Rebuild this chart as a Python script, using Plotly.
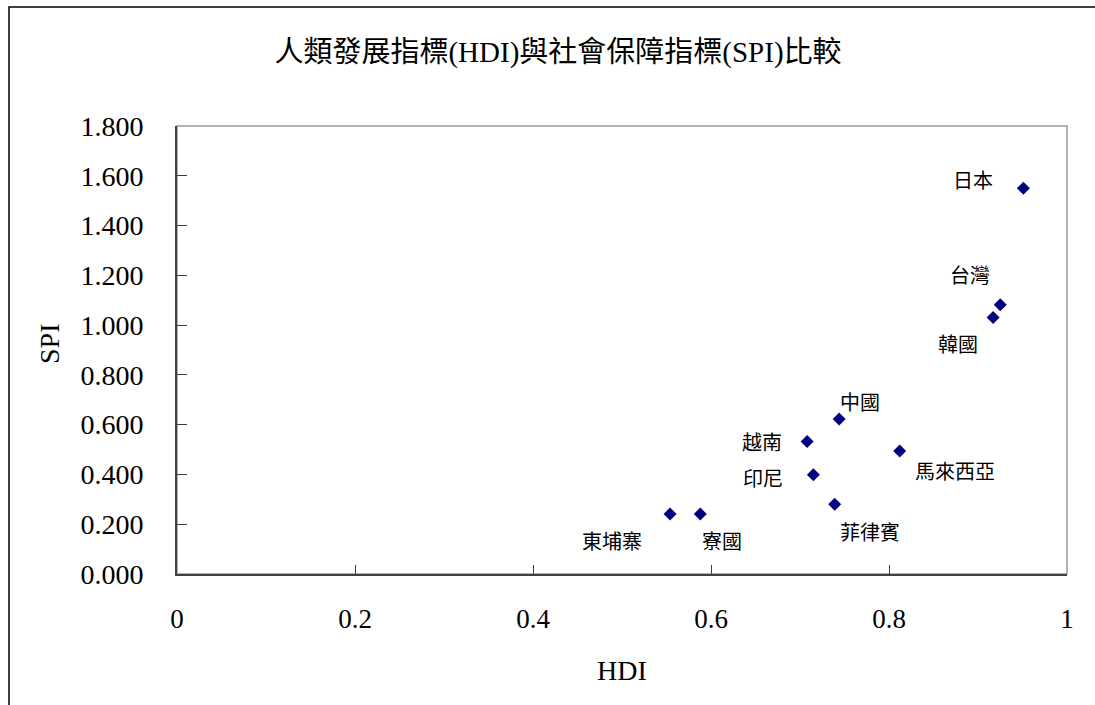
import plotly.graph_objects as go

# HDI vs SPI by country
countries = ["日本", "台灣", "韓國", "中國", "越南", "馬來西亞", "印尼", "菲律賓", "東埔寨", "寮國"]
hdi = [0.951, 0.925, 0.917, 0.744, 0.708, 0.812, 0.715, 0.739, 0.554, 0.588]
spi = [1.550, 1.082, 1.031, 0.623, 0.532, 0.494, 0.399, 0.280, 0.241, 0.241]

# label offsets in pixels (x right, y up) relative to each marker
label_dx = [-50, -30, -35, 21, -45, 55, -50, 35, -58, 22]
label_dy = [9, 30, -26, 17, 0, -19, -3, -27, -26, -26]

x_ticks = [0, 0.2, 0.4, 0.6, 0.8, 1]
y_ticks = [0, 0.2, 0.4, 0.6, 0.8, 1.0, 1.2, 1.4, 1.6, 1.8]

W, H = 1095, 705
L, R, T, B = 177, 28, 126, 131
pw, ph = W - L - R, H - T - B

serif = "Liberation Serif, Times New Roman, serif"
cjk = "Liberation Serif, Noto Sans CJK TC, serif"

fig = go.Figure()
fig.add_trace(go.Scatter(
    x=hdi, y=spi, mode="markers",
    marker=dict(symbol="diamond", size=10, color="#000080", line=dict(width=0)),
    showlegend=False, hoverinfo="text", text=countries,
))

for name, x, y, dx, dy in zip(countries, hdi, spi, label_dx, label_dy):
    fig.add_annotation(x=x, y=y, xref="x", yref="y", text=name, showarrow=False,
                       xshift=dx, yshift=dy, xanchor="center", yanchor="middle",
                       font=dict(family="Noto Sans CJK TC", size=20, color="#000000"))

# axis titles
fig.add_annotation(text="SPI", xref="paper", yref="paper",
                   x=(49 - L) / pw, y=(H - B - 344) / ph, textangle=-90,
                   showarrow=False, xanchor="center", yanchor="middle",
                   font=dict(family=serif, size=28, color="#000000"))
fig.add_annotation(text="HDI", xref="paper", yref="paper",
                   x=(622 - L) / pw, y=(H - B - 670) / ph,
                   showarrow=False, xanchor="center", yanchor="middle",
                   font=dict(family=serif, size=28, color="#000000"))

# outer chart frame (right and bottom edges run past the page)
fig.add_shape(type="rect", xref="paper", yref="paper", layer="below",
              x0=(9 - L) / pw, x1=(1110 - L) / pw,
              y0=(H - B - 730) / ph, y1=(H - B - 7) / ph,
              line=dict(color="#000000", width=1.5), fillcolor="rgba(0,0,0,0)")
# plot area border
fig.add_shape(type="rect", xref="paper", yref="paper", layer="below",
              x0=0, x1=1, y0=0, y1=1,
              line=dict(color="#9a9a9a", width=1.5), fillcolor="rgba(0,0,0,0)")

fig.update_layout(
    width=W, height=H,
    margin=dict(l=L, r=R, t=T, b=B),
    paper_bgcolor="white", plot_bgcolor="white",
    title=dict(text="人類發展指標(HDI)與社會保障指標(SPI)比較",
               x=558 / W, xanchor="center", y=1 - 52 / H, yanchor="middle",
               font=dict(family=cjk, size=29, color="#000000")),
    xaxis=dict(range=[0, 1], tickvals=x_ticks, ticktext=[f"{v:g}" for v in x_ticks],
               showgrid=False, zeroline=False, showline=True, linecolor="#404040",
               linewidth=2, ticks="inside", ticklen=9, tickcolor="#404040",
               ticklabelstandoff=20,
               tickfont=dict(family=serif, size=27, color="#000000")),
    yaxis=dict(range=[0, 1.8], tickvals=y_ticks, ticktext=[f"{v:.3f}" for v in y_ticks],
               showgrid=False, zeroline=False, showline=True, linecolor="#404040",
               linewidth=2, ticks="inside", ticklen=10, tickcolor="#404040",
               ticklabelstandoff=26,
               tickfont=dict(family=serif, size=28, color="#000000")),
)

fig.write_html("out.html")
